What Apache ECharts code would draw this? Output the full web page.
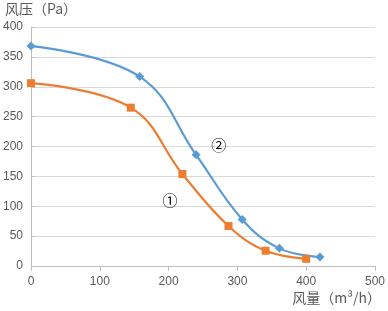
<!DOCTYPE html>
<html><head><meta charset="utf-8">
<script src="https://cdn.jsdelivr.net/npm/echarts@6/dist/echarts.min.js"></script>
<style>html,body{margin:0;padding:0;background:#fff}#c{width:388px;height:311px}</style>
</head><body><div id="c"></div>
<script>
const xTicks = [0, 100, 200, 300, 400, 500];
const yTicks = [0, 50, 100, 150, 200, 250, 300, 350, 400];
const seriesNames = ['②', '①'];
const curve2X = [0, 158, 240, 307, 361, 420];
const curve2Y = [368, 317, 186, 78, 29.5, 15];
const curve1X = [0, 145, 220, 287, 341, 400];
const curve1Y = [306, 265, 154, 67, 25.5, 12];
const labelPos2 = [273, 202];
const labelPos1 = [202, 110];
const yName = '风压（Pa）';
const xName = '风量（m³/h）';

const chart = echarts.init(document.getElementById('c'));
const zip = (a, b) => a.map((v, i) => [v, b[i]]);
const numFont = 'Liberation Sans';
const cjk = '"Noto Sans CJK SC", sans-serif';
chart.setOption({
  animation: false,
  grid: {left: 30, right: 12, top: 27, bottom: 45, containLabel: false},
  xAxis: {
    type: 'value', min: xTicks[0], max: xTicks[xTicks.length-1], interval: 100,
    axisLine: {lineStyle: {color: '#bfbfbf'}},
    axisTick: {show: true, length: 5, lineStyle: {color: '#bfbfbf'}, inside: false},
    splitLine: {show: false},
    axisLabel: {color: '#595959', fontSize: 12, fontFamily: numFont, margin: 10}
  },
  yAxis: {
    type: 'value', min: yTicks[0], max: yTicks[yTicks.length-1], interval: 50,
    axisLine: {show: true, lineStyle: {color: '#bfbfbf'}},
    axisTick: {show: true, length: 4, inside: true, lineStyle: {color: '#bfbfbf'}},
    splitLine: {lineStyle: {color: '#d9d9d9'}},
    axisLabel: {color: '#595959', fontSize: 12, fontFamily: numFont, margin: 8}
  },
  series: [
    {name: seriesNames[0], type: 'line', smooth: 0.4, data: zip(curve2X, curve2Y),
     symbol: 'diamond', symbolSize: 9, lineStyle: {color: '#5b9bd5', width: 2.2},
     itemStyle: {color: '#5b9bd5'}},
    {name: seriesNames[1], type: 'line', smooth: 0.4, data: zip(curve1X, curve1Y),
     symbol: 'rect', symbolSize: 8, lineStyle: {color: '#ed7d31', width: 2.2},
     itemStyle: {color: '#ed7d31'}}
  ]
});
const p2 = chart.convertToPixel({gridIndex: 0}, labelPos2);
const p1 = chart.convertToPixel({gridIndex: 0}, labelPos1);
chart.setOption({
  graphic: [
    {type: 'text', left: 5, top: 2, style: {text: yName, font: '14px ' + cjk, fill: '#595959'}},
    {type: 'text', right: 7, top: 291, style: {text: xName, font: '14px ' + cjk, fill: '#595959'}},
    {type: 'text', x: p2[0], y: p2[1], style: {text: seriesNames[0], font: '15px ' + cjk, fill: '#000', align: 'center', verticalAlign: 'middle'}},
    {type: 'text', x: p1[0], y: p1[1], style: {text: seriesNames[1], font: '15px ' + cjk, fill: '#000', align: 'center', verticalAlign: 'middle'}}
  ]
});
</script></body></html>
